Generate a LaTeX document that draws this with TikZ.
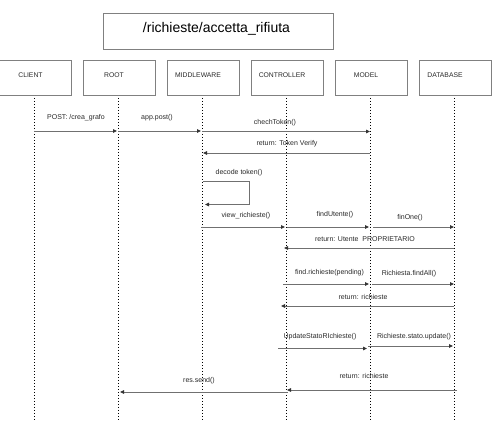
\documentclass[tikz,border=0pt]{standalone}
\usepackage{fontspec}
\setmainfont{Liberation Sans}
\usetikzlibrary{arrows.meta}
\definecolor{linegray}{RGB}{112,112,112}
\definecolor{boxgray}{RGB}{128,128,128}
\definecolor{txt}{RGB}{40,40,40}
\begin{document}
\begin{tikzpicture}[x=1pt,y=-1pt,
  actor/.style={draw=boxgray,line width=0.8pt,minimum width=72pt,minimum height=35pt,inner sep=0pt},
  actlabel/.style={font=\fontsize{6.8}{8}\selectfont,text=txt,inner sep=0pt},
  lifeline/.style={line width=0.9pt,black,dash pattern=on 0.9pt off 2.1pt},
  msg/.style={draw=linegray,line width=0.9pt,-{Triangle[length=4pt,width=3.6pt,fill=black!80,color=black!80]}},
  lbl/.style={font=\fontsize{7}{8}\selectfont,text=txt,inner sep=0pt}]
\useasboundingbox (0,0) rectangle (493,422);
% title
\node[draw=boxgray,line width=0.8pt,minimum width=230pt,minimum height=36pt,inner sep=0pt] (title) at (218,31) {};
\node[font=\fontsize{14}{16}\selectfont,text=black,inner sep=0pt] (titletext) at (216.5,28.5) {/richieste/accetta\_rifiuta};
% actors
\node[actor] (client) at (35.5,78) {};
\node[actor] (root) at (119,78) {};
\node[actor] (mw) at (203,78) {};
\node[actor] (ctrl) at (287,78) {};
\node[actor] (model) at (371,78) {};
\node[actor] (db) at (455,78) {};
\node[actlabel] (lclient) at (30.5,75) {CLIENT};
\node[actlabel] (lroot) at (114,75) {ROOT};
\node[actlabel] (lmw) at (198,75) {MIDDLEWARE};
\node[actlabel] (lctrl) at (282,75) {CONTROLLER};
\node[actlabel] (lmodel) at (366,75) {MODEL};
\node[actlabel] (ldb) at (445,75) {DATABASE};
% lifelines
\coordinate (tclient) at (34,98); \coordinate (bclient) at (34,420);
\coordinate (troot) at (118,98); \coordinate (broot) at (118,420);
\coordinate (tmw) at (202,98); \coordinate (bmw) at (202,420);
\coordinate (tctrl) at (286.5,98); \coordinate (bctrl) at (286.5,420);
\coordinate (tmodel) at (370.5,98); \coordinate (bmodel) at (370.5,420);
\coordinate (tdb) at (454,98); \coordinate (bdb) at (454,420);
\foreach \a in {client,root,mw,ctrl,model,db} \draw[lifeline] (t\a) -- (b\a);
% message end points
\coordinate (m1a) at (34,131); \coordinate (m1b) at (117,131);
\coordinate (m2a) at (118,131); \coordinate (m2b) at (201,131);
\coordinate (m3a) at (202,131.5); \coordinate (m3b) at (370,131.5);
\coordinate (m4a) at (370,153); \coordinate (m4b) at (203,153);
\coordinate (m5a) at (203,181); \coordinate (m5c) at (249,181); \coordinate (m5d) at (249,204.5); \coordinate (m5b) at (205,204.5);
\coordinate (m6a) at (201,227); \coordinate (m6b) at (285,227);
\coordinate (m7a) at (287,227); \coordinate (m7b) at (369,227);
\coordinate (m8a) at (373,227); \coordinate (m8b) at (454,227);
\coordinate (m9a) at (454,248); \coordinate (m9b) at (284,248);
\coordinate (m10a) at (283,284); \coordinate (m10b) at (369,284);
\coordinate (m11a) at (372,284); \coordinate (m11b) at (454,284);
\coordinate (m12a) at (454,306); \coordinate (m12b) at (281,306);
\coordinate (m13a) at (278,348.5); \coordinate (m13b) at (367,348.5);
\coordinate (m14a) at (368,346); \coordinate (m14b) at (453,346);
\coordinate (m15a) at (457,390); \coordinate (m15b) at (287,390);
\coordinate (m16a) at (288,392); \coordinate (m16b) at (120,392);
% messages
\draw[msg] (m1a) -- (m1b);
\draw[msg] (m2a) -- (m2b);
\draw[msg] (m3a) -- (m3b);
\draw[msg] (m4a) -- (m4b);
\draw[msg] (m5a) -- (m5c) -- (m5d) -- (m5b);
\draw[msg] (m6a) -- (m6b);
\draw[msg] (m7a) -- (m7b);
\draw[msg] (m8a) -- (m8b);
\draw[msg] (m9a) -- (m9b);
\draw[msg] (m10a) -- (m10b);
\draw[msg] (m11a) -- (m11b);
\draw[msg] (m12a) -- (m12b);
\draw[msg] (m13a) -- (m13b);
\draw[msg] (m14a) -- (m14b);
\draw[msg] (m15a) -- (m15b);
\draw[msg] (m16a) -- (m16b);
% labels
\node[lbl] (t1) at (76,118) {POST: /crea\_grafo};
\node[lbl] (t2) at (157,118) {app.post()};
\node[lbl] (t3) at (275,123) {chechToken()};
\node[lbl] (t4) at (287,144) {return: Token Verify};
\node[lbl] (t5) at (239,173) {decode token()};
\node[lbl] (t6) at (246,216) {view\_richieste()};
\node[lbl] (t7) at (335,215) {findUtente()};
\node[lbl] (t8) at (410,218) {finOne()};
\node[lbl] (t9) at (365,239) {return: Utente\ \ PROPRIETARIO};
\node[lbl] (t10) at (329.5,273) {find.richieste(pending)};
\node[lbl] (t11) at (409,274) {Richiesta.findAll()};
\node[lbl] (t12) at (363,297) {return: richieste};
\node[lbl] (t13) at (320,337) {UpdateStatoRIchieste()};
\node[lbl] (t14) at (414,337) {Richieste.stato.update()};
\node[lbl] (t15) at (364,376) {return: richieste};
\node[lbl] (t16) at (199,381) {res.send()};
\end{tikzpicture}
\end{document}
